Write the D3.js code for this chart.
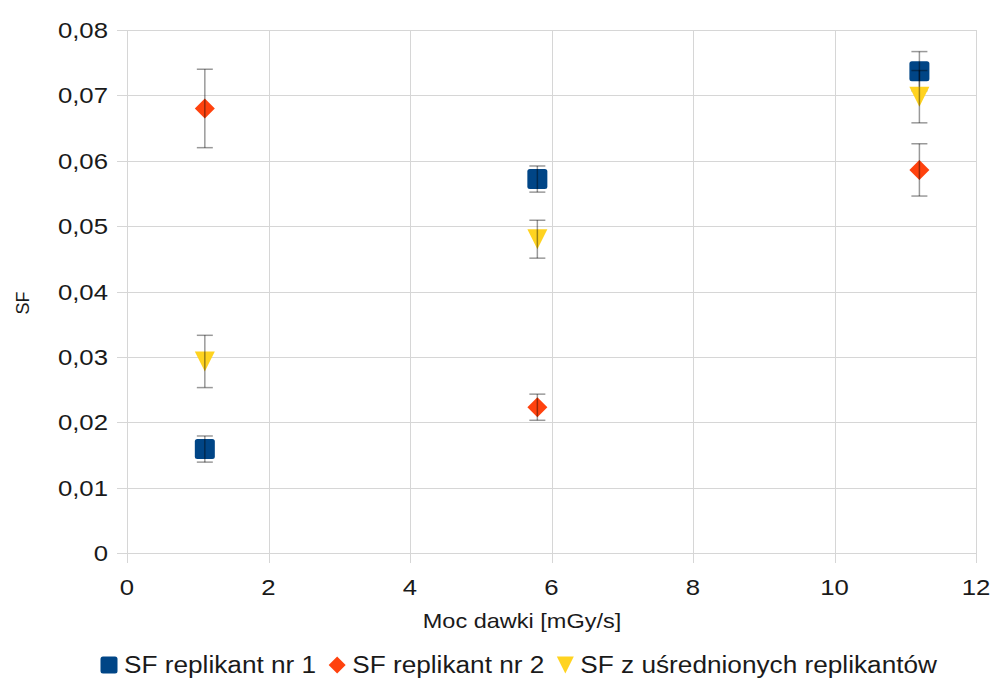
<!DOCTYPE html>
<html>
<head>
<meta charset="utf-8">
<script src="https://cdn.jsdelivr.net/npm/d3@7"></script>
<style>
  body { margin: 0; background: #fff; }
  text { font-family: "Liberation Sans", Arial, sans-serif; fill: #1a1a1a; }
</style>
</head>
<body>
<script>
// dose rate values (x) and survival fractions per series
var doseRates = [1.1, 5.8, 11.2];
var sfRep1 = [0.0159, 0.0572, 0.0737];
var errRep1 = [0.002, 0.002, 0.003];
var sfRep2 = [0.0680, 0.0223, 0.0586];
var errRep2 = [0.006, 0.002, 0.004];
var sfAvg = [0.0293, 0.0480, 0.0698];
var errAvg = [0.004, 0.0029, 0.004];

var seriesNames = ['SF replikant nr 1', 'SF replikant nr 2', 'SF z uśrednionych replikantów'];
var xTicks = [0, 2, 4, 6, 8, 10, 12];
var yTicks = [0, 0.01, 0.02, 0.03, 0.04, 0.05, 0.06, 0.07, 0.08];
var xTitle = 'Moc dawki [mGy/s]';
var yTitle = 'SF';

var W = 994, H = 680;
var margin = {top: 30, right: 18, bottom: 127, left: 127},
    w = W - margin.left - margin.right,
    h = H - margin.top - margin.bottom;
var stretch = 1.12;  // text in the original is drawn a bit wide
var gridCol = '#d6d6d6';

var series = [
  {name: seriesNames[0], y: sfRep1, err: errRep1, color: '#004586', shape: 'square'},
  {name: seriesNames[1], y: sfRep2, err: errRep2, color: '#ff420e', shape: 'diamond'},
  {name: seriesNames[2], y: sfAvg, err: errAvg, color: '#ffd320', shape: 'triangle'}
];

var svg = d3.select('body').append('svg')
    .attr('width', W)
    .attr('height', H);

var g = svg.append('g')
    .attr('transform', 'translate(' + margin.left + ',' + margin.top + ')');

var xScale = d3.scaleLinear().domain([0, 12]).range([0, w]);
var yScale = d3.scaleLinear().domain([0, 0.08]).range([h, 0]);

var fmt = function (d) { return d === 0 ? '0' : d3.format('.2f')(d).replace('.', ','); };

// grid
g.selectAll('.hgrid').data(yTicks).enter().append('line')
  .attr('x1', -10).attr('x2', w)
  .attr('y1', function (d) { return Math.round(yScale(d)) + 0.5; })
  .attr('y2', function (d) { return Math.round(yScale(d)) + 0.5; })
  .attr('stroke', gridCol);
g.selectAll('.vgrid').data(xTicks).enter().append('line')
  .attr('y1', 0).attr('y2', h + 10)
  .attr('x1', function (d) { return Math.round(xScale(d)) + 0.5; })
  .attr('x2', function (d) { return Math.round(xScale(d)) + 0.5; })
  .attr('stroke', gridCol);

// tick labels
g.selectAll('.ylab').data(yTicks).enter().append('text')
  .attr('transform', function (d) {
    return 'translate(-19,' + yScale(d) + ') scale(' + stretch + ',1)';
  })
  .attr('dy', '0.35em')
  .attr('text-anchor', 'end')
  .style('font-size', '23px')
  .text(fmt);
g.selectAll('.xlab').data(xTicks).enter().append('text')
  .attr('transform', function (d) {
    return 'translate(' + xScale(d) + ',' + (h + 42) + ') scale(' + stretch + ',1)';
  })
  .attr('text-anchor', 'middle')
  .style('font-size', '23px')
  .text(function (d) { return d; });

// axis titles
svg.append('text')
  .attr('transform', 'translate(522,628) scale(' + stretch + ',1)')
  .attr('text-anchor', 'middle')
  .style('font-size', '21px')
  .text(xTitle);
svg.append('text')
  .attr('transform', 'translate(29,303) rotate(-90)')
  .attr('text-anchor', 'middle')
  .style('font-size', '18px')
  .text(yTitle);

// marker paths
var shapePath = function (shape, s) {
  var r = s / 2;
  if (shape === 'square') {
    var c = 2.5;
    return 'M' + (-r + c) + ',' + (-r) + 'H' + (r - c) + 'Q' + r + ',' + (-r) + ' ' + r + ',' + (-r + c) +
      'V' + (r - c) + 'Q' + r + ',' + r + ' ' + (r - c) + ',' + r + 'H' + (-r + c) +
      'Q' + (-r) + ',' + r + ' ' + (-r) + ',' + (r - c) + 'V' + (-r + c) + 'Q' + (-r) + ',' + (-r) + ' ' + (-r + c) + ',' + (-r) + 'Z';
  }
  if (shape === 'diamond') {
    return 'M0,' + (-r) + 'L' + r + ',0L0,' + r + 'L' + (-r) + ',0Z';
  }
  return 'M' + (-r) + ',' + (-r) + 'L' + r + ',' + (-r) + 'L0,' + r + 'Z';
};

series.forEach(function (s) {
  var pts = doseRates.map(function (x, i) { return {x: x, y: s.y[i], e: s.err[i]}; });
  var sg = g.append('g');

  sg.selectAll('path').data(pts).enter().append('path')
    .attr('d', shapePath(s.shape, 20))
    .attr('transform', function (d) { return 'translate(' + xScale(d.x) + ',' + yScale(d.y) + ')'; })
    .attr('fill', s.color);

  var eb = sg.selectAll('.err').data(pts).enter().append('g')
    .attr('stroke', 'rgba(0,0,0,0.4)')
    .attr('stroke-width', 1.5);
  eb.append('line')
    .attr('x1', function (d) { return xScale(d.x); })
    .attr('x2', function (d) { return xScale(d.x); })
    .attr('y1', function (d) { return yScale(d.y + d.e); })
    .attr('y2', function (d) { return yScale(d.y - d.e); });
  [1, -1].forEach(function (sign) {
    eb.append('line')
      .attr('x1', function (d) { return xScale(d.x) - 8; })
      .attr('x2', function (d) { return xScale(d.x) + 8; })
      .attr('y1', function (d) { return yScale(d.y + sign * d.e); })
      .attr('y2', function (d) { return yScale(d.y + sign * d.e); });
  });
});

// legend
var leg = svg.append('g');
var lx = 100, ly = 665;
series.forEach(function (s) {
  leg.append('path')
    .attr('d', shapePath(s.shape, 17))
    .attr('transform', 'translate(' + (lx + 9) + ',' + ly + ')')
    .attr('fill', s.color);
  var t = leg.append('text')
    .attr('transform', 'translate(' + (lx + 24) + ',' + (ly + 8) + ') scale(' + stretch + ',1)')
    .style('font-size', '23.4px')
    .text(s.name);
  lx = lx + 24 + t.node().getComputedTextLength() * stretch + 12;
});
</script>
</body>
</html>
